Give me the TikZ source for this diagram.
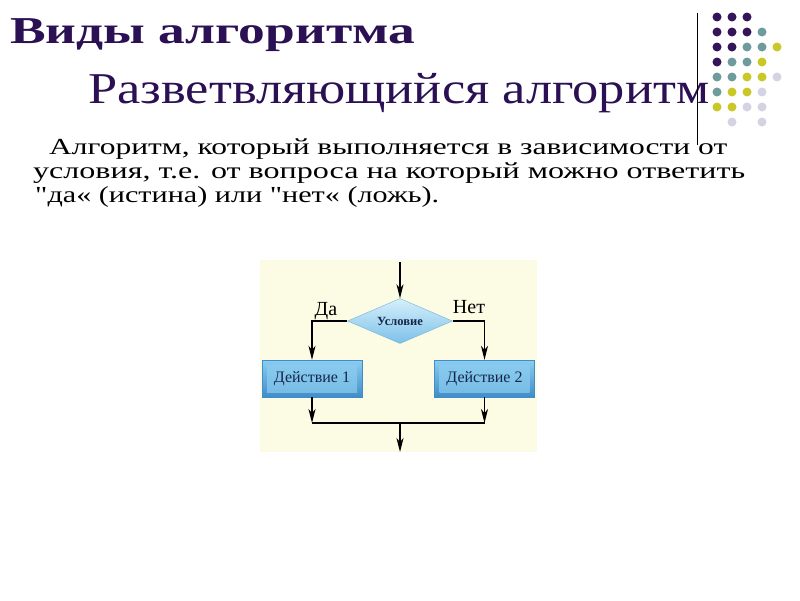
\documentclass[tikz,border=0pt]{standalone}
\usepackage{fontspec}
\setmainfont{Liberation Serif}
\usetikzlibrary{arrows.meta,positioning,shapes.geometric,calc}
\definecolor{titlecol}{HTML}{2B1053}
\definecolor{chartbg}{HTML}{FCFBE4}
\definecolor{boxtext}{HTML}{15264A}
\definecolor{dotP}{HTML}{351559}
\definecolor{dotT}{HTML}{6E9C9C}
\definecolor{dotY}{HTML}{C9C826}
\definecolor{dotG}{HTML}{D3D3E3}
\definecolor{blueL}{HTML}{D6F0FB}
\definecolor{blueM}{HTML}{8CCDF0}
\definecolor{blueD}{HTML}{3F8DC9}
\newcommand\dquote{\XeTeXglyph\XeTeXcharglyph"22\relax}

\tikzset{
  flow/.style={line width=1.4pt,-{Stealth[length=14pt,width=7pt,inset=4pt]}},
  plain/.style={line width=1.4pt},
  cond/.style={diamond,aspect=2.33,minimum width=105pt,minimum height=45pt,inner sep=0pt,
    top color=blueL,bottom color=blueM!80!blueD,draw=blueM!60!blueD,
    font=\fontsize{12.5}{14}\selectfont\bfseries,text=boxtext},
  actbox/.style={rectangle,minimum width=100pt,minimum height=37pt,inner sep=0pt,
    top color=blueM,bottom color=blueD,draw=blueD,
    font=\fontsize{16}{18}\selectfont,text=boxtext,
    path picture={\shade[top color=blueM,middle color=blueL,bottom color=blueM!70!blueD]
      ([shift={(5pt,-5pt)}]path picture bounding box.north west) rectangle
      ([shift={(-5pt,5pt)}]path picture bounding box.south east);}},
  lbl/.style={font=\fontsize{20}{22}\selectfont,inner sep=0pt,anchor=base},
  bodyline/.style={anchor=base west,inner sep=0pt}
}

\begin{document}
\begin{tikzpicture}[x=1pt,y=-1pt]
  \useasboundingbox (0,0) rectangle (800,600);
  \fill[white] (0,0) rectangle (800,600);

  % headings
  \node[bodyline,text=titlecol] (title) at (10,43)
    {\resizebox{405pt}{\height}{\fontsize{38}{40}\selectfont\bfseries Виды алгоритма}};
  \node[bodyline,text=titlecol] (subtitle) at (88,103)
    {\resizebox{621pt}{\height}{\fontsize{44}{46}\selectfont Разветвляющийся алгоритм}};

  % text
  \node[bodyline] (line1) at (49,154)
    {\resizebox{678pt}{\height}{\fontsize{23}{25}\selectfont Алгоритм, который выполняется в зависимости от}};
  \node[bodyline] (line2) at (33,178)
    {\resizebox{712pt}{\height}{\fontsize{23}{25}\selectfont условия, т.е. от вопроса на который можно ответить}};
  \node[bodyline] (line3) at (35,202)
    {\resizebox{404pt}{\height}{\fontsize{23}{25}\selectfont \dquote да« (истина) или \dquote нет« (ложь).}};

  % decoration
  \draw[line width=0.9pt] (697,13) -- (697,145);
  \foreach \c/\r/\k in {1/1/dotP,2/1/dotP,3/1/dotP,
      1/2/dotP,2/2/dotP,3/2/dotP,4/2/dotT,
      1/3/dotP,2/3/dotP,3/3/dotT,4/3/dotT,5/3/dotY,
      1/4/dotP,2/4/dotT,3/4/dotT,4/4/dotY,
      1/5/dotT,2/5/dotT,3/5/dotY,4/5/dotY,5/5/dotG,
      1/6/dotT,2/6/dotY,3/6/dotY,4/6/dotG,
      1/7/dotY,2/7/dotY,3/7/dotG,4/7/dotG,
      2/8/dotG,4/8/dotG}
    \fill[\k] (702+15*\c,2+15*\r) circle (4.5);

  % flowchart
  \fill[chartbg] (260,260) rectangle (537,452);
  \node[cond] (cond) at (400,321) {Условие};
  \node[actbox] (act1) at (312,378.5) {Действие 1};
  \node[actbox] (act2) at (484.5,378.5) {Действие 2};
  \coordinate (in) at (400,262);
  \coordinate (j1) at (312,423);
  \coordinate (j2) at (484.5,423);
  \coordinate (jm) at (400,423);
  \coordinate (out) at (400,452);

  \draw[flow] (in) -- (cond.north);
  \draw[flow] (cond.west) -| (act1.north);
  \draw[flow] (cond.east) -| (act2.north);
  \draw[flow] (act1.south) -- (j1);
  \draw[flow] (act2.south) -- (j2);
  \draw[plain] (j1) -- (j2);
  \draw[flow] (jm) -- (out);

  \node[lbl] (yes) at (326,315) {Да};
  \node[lbl] (no) at (469,313) {Нет};
\end{tikzpicture}
\end{document}
